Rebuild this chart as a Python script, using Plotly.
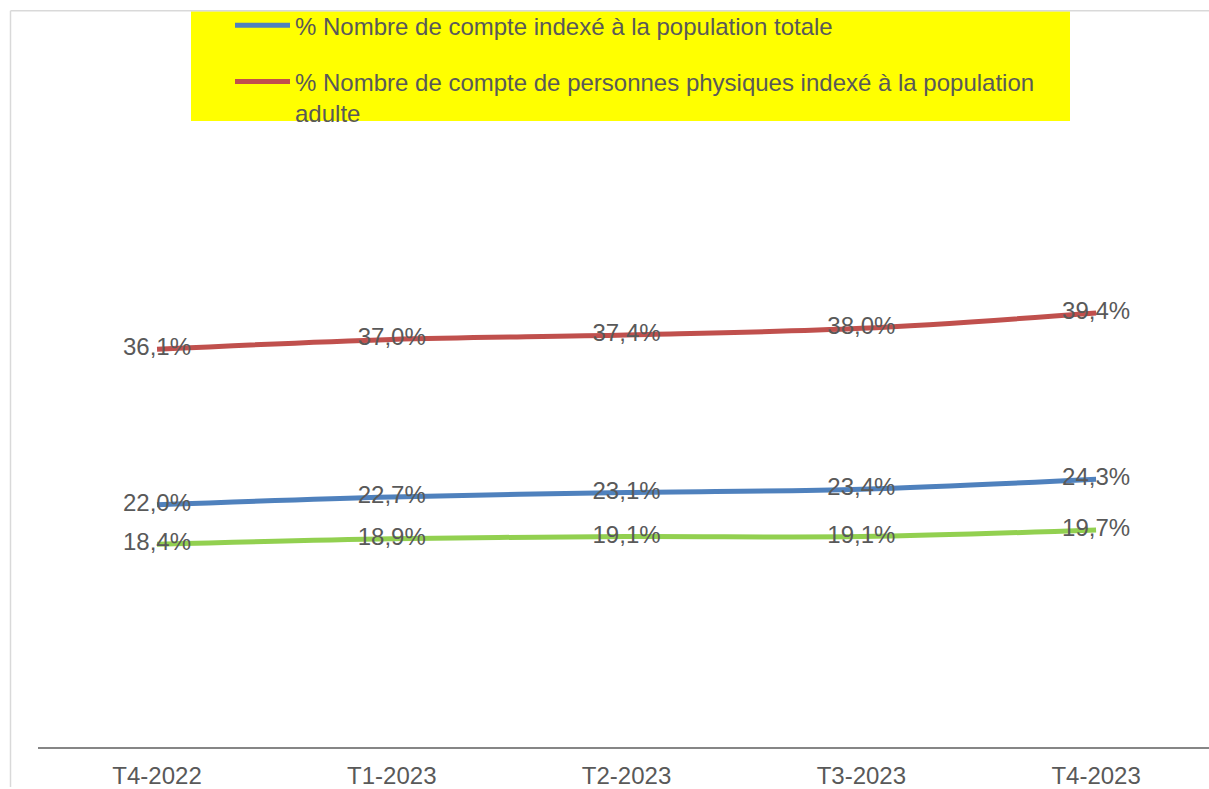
import plotly.graph_objects as go

categories = ["T4-2022", "T1-2023", "T2-2023", "T3-2023", "T4-2023"]
total_pop = [22.0, 22.7, 23.1, 23.4, 24.3]
adult_pop = [36.1, 37.0, 37.4, 38.0, 39.4]
third_series = [18.4, 18.9, 19.1, 19.1, 19.7]

name_total = "% Nombre de compte indexé à la population totale"
name_adult = "% Nombre de compte de personnes physiques indexé à la population<br>adulte"

TXT = "#595959"
FONT = "Liberation Sans, Arial, sans-serif"
FS = 24

W, H = 1209, 789
ML, MR, MT, MB = 38, 0, 86, 40
PW = W - ML - MR
PH = H - MT - MB

def px(x):
    return (x - ML) / PW

def py(y):
    return (H - MB - y) / PH

fig = go.Figure()
fig.add_trace(go.Scatter(
    x=categories, y=total_pop, name=name_total, mode="lines+text",
    line=dict(color="#4F81BD", width=5, shape="spline"),
    texttemplate="%{y:.1f}%", textposition="middle center",
    textfont=dict(size=FS, color=TXT, family=FONT),
    legendgroup="a",
))
fig.add_trace(go.Scatter(
    x=categories, y=adult_pop, name=name_adult, mode="lines+text",
    line=dict(color="#C0504D", width=5, shape="spline"),
    texttemplate="%{y:.1f}%", textposition="middle center",
    textfont=dict(size=FS, color=TXT, family=FONT),
    legendgroup="b",
))
fig.add_trace(go.Scatter(
    x=categories, y=third_series, name="", mode="lines+text",
    line=dict(color="#92D050", width=5, shape="spline"),
    texttemplate="%{y:.1f}%", textposition="middle center",
    textfont=dict(size=FS, color=TXT, family=FONT),
    showlegend=False,
))

shapes = [
    dict(type="rect", xref="paper", yref="paper",
         x0=px(191), x1=px(1070), y0=py(121), y1=py(11),
         fillcolor="#FFFF00", line=dict(width=0), layer="below"),
    dict(type="line", xref="paper", yref="paper",
         x0=px(10.5), x1=px(1209), y0=py(10.5), y1=py(10.5),
         line=dict(color="#D9D9D9", width=1.5)),
    dict(type="line", xref="paper", yref="paper",
         x0=px(10.5), x1=px(10.5), y0=py(789), y1=py(10.5),
         line=dict(color="#D9D9D9", width=1.5)),
]

fig.update_layout(
    width=W, height=H,
    margin=dict(l=ML, r=MR, t=MT, b=MB),
    paper_bgcolor="white", plot_bgcolor="white",
    separators=", ",
    font=dict(family=FONT, color=TXT, size=FS),
    showlegend=True,
    legend=dict(
        x=px(230), y=py(3), xanchor="left", yanchor="top",
        bgcolor="rgba(0,0,0,0)", font=dict(size=FS, color=TXT, family=FONT),
        tracegroupgap=22, itemwidth=55, valign="top",
    ),
    xaxis=dict(
        type="category", range=[-0.507, 4.481],
        showline=True, linecolor="#868686", linewidth=2,
        showgrid=False, zeroline=False, ticks="",
        ticklabelstandoff=6,
        tickfont=dict(size=FS, color=TXT, family=FONT),
    ),
    yaxis=dict(
        range=[0, 60], visible=False, showgrid=False, zeroline=False,
    ),
    shapes=shapes,
)

fig.write_html("out.html")
